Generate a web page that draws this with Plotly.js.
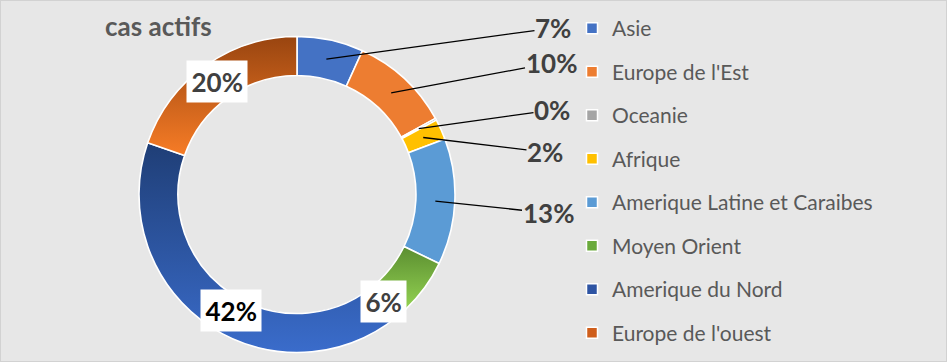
<!DOCTYPE html>
<html>
<head>
<meta charset="utf-8">
<script src="https://cdn.plot.ly/plotly-3.0.1.min.js"></script>
<style>
  html, body { margin: 0; padding: 0; background: #E7E7E7; }
  #chart { width: 947px; height: 362px; }
</style>
</head>
<body>
<div id="chart"></div>
<script>
// ---- data ----
const regions = ["Asie", "Europe de l'Est", "Oceanie", "Afrique",
                 "Amerique Latine et Caraibes", "Moyen Orient",
                 "Amerique du Nord", "Europe de l'ouest"];
const shares = [6.8, 10.2, 0.2, 2.1, 12.9, 5.7, 42.4, 19.7];
const chartTitle = "cas actifs";

// ---- styles ----
const sliceColors = ["#4472C4", "#ED7D31", "#A5A5A5", "#FFC000",
                     "#5B9BD5", "#70AD47", "#2E58AE", "#D2601A"];
const legendColors = ["#4472C4", "#ED7D31", "#A5A5A5", "#FFC000",
                      "#5B9BD5", "#6AAA3C", "#2E54A3", "#CF5E1B"];
const gradients = { 5: ["#5B8E30", "#93D252"], 6: ["#1F3E76", "#3A6CCB"], 7: ["#994510", "#F77C26"] };
const labelMode = ["out", "out", "out", "out", "out", "in", "in", "in"];
const labelColor = ["#404040", "#404040", "#404040", "#404040", "#404040", "#404040", "#000000", "#404040"];
// pixel nudges for inside labels (layout tweak)
const labelNudge = { 5: [-25, 25], 6: [9, 0], 7: [0, 0] };
// label anchor (pixels) for outside labels
const outsideLabelPos = { 0: [553, 28], 1: [551, 63], 2: [552, 110], 3: [545, 152], 4: [548, 213] };

const W = 947, H = 362;
const cx = 297, cy = 194.5, R = 158, holeFrac = 0.753;
const rMid = R * (1 + holeFrac) / 2;

const pie = {
  type: "pie",
  labels: regions,
  values: shares,
  sort: false,
  direction: "clockwise",
  rotation: 0,
  hole: holeFrac,
  textinfo: "none",
  hoverinfo: "skip",
  showlegend: false,
  marker: { colors: sliceColors, line: { color: "#FFFFFF", width: 1.6 } },
  domain: { x: [(cx - R) / W, (cx + R) / W], y: [1 - (cy + R) / H, 1 - (cy - R) / H] }
};

const legendTraces = regions.map((name, i) => ({
  type: "scatter", mode: "markers", x: [null], y: [null], name: name,
  legendgroup: "g" + i, hoverinfo: "skip",
  marker: { symbol: "square", size: 11, color: legendColors[i], line: { color: "#FFFFFF", width: 1.5 } }
}));

// annotations computed from the data
const total = shares.reduce((a, b) => a + b, 0);
let cum = 0;
const annotations = [];
const labelFont = { family: "Lato, 'Open Sans', sans-serif", size: 26, weight: 700 };
shares.forEach((v, i) => {
  const mid = (cum + v / 2) / total;
  cum += v;
  const th = 2 * Math.PI * mid;
  const px = cx + rMid * Math.sin(th);
  const py = cy - rMid * Math.cos(th);
  const txt = Math.round(v / total * 100) + "%";
  const f = Object.assign({}, labelFont, { color: labelColor[i] });
  if (labelMode[i] === "in") {
    const n = labelNudge[i] || [0, 0];
    annotations.push({
      xref: "paper", yref: "paper", x: (px + n[0]) / W, y: 1 - (py + n[1]) / H,
      text: "<b>" + txt + "</b>", showarrow: false, font: f,
      bgcolor: "#FFFFFF", borderpad: 4.5, xanchor: "center", yanchor: "middle"
    });
  } else {
    const lp = outsideLabelPos[i];
    annotations.push({
      xref: "paper", yref: "paper", x: px / W, y: 1 - py / H,
      ax: lp[0] - px, ay: lp[1] - py, axref: "pixel", ayref: "pixel",
      text: "<b>" + txt + "</b>", showarrow: true, arrowhead: 0, arrowwidth: 1.3,
      arrowcolor: "#000000", standoff: 0, startstandoff: 0, font: f, borderpad: 0
    });
  }
});

const layout = {
  width: W, height: H,
  margin: { l: 0, r: 0, t: 0, b: 0 },
  paper_bgcolor: "#E7E7E7", plot_bgcolor: "#E7E7E7",
  title: {
    text: "<b>" + chartTitle + "</b>",
    x: 105 / W, xanchor: "left", xref: "paper",
    y: 1 - 27 / H, yanchor: "middle", yref: "container",
    font: { family: "Lato, 'Open Sans', sans-serif", size: 26, color: "#595959" }
  },
  xaxis: { visible: false }, yaxis: { visible: false },
  showlegend: true,
  legend: {
    x: 572 / W, xanchor: "left", y: 1 - 8 / H, yanchor: "top",
    bgcolor: "rgba(0,0,0,0)", tracegroupgap: 13.2,
    font: { family: "Lato, 'Open Sans', sans-serif", size: 21, color: "#595959" },
    itemclick: false, itemdoubleclick: false
  },
  annotations: annotations,
  shapes: [{ type: "rect", xref: "paper", yref: "paper", x0: 0, x1: 1, y0: 0, y1: 1,
             line: { color: "#D2D2D2", width: 2 } }]
};

Plotly.newPlot("chart", [pie].concat(legendTraces), layout, { displayModeBar: false, staticPlot: true })
.then(gd => {
  try {
    const svg = gd.querySelector(".main-svg");
    const defs = svg.querySelector("defs");
    const NS = "http://www.w3.org/2000/svg";
    const paths = gd.querySelectorAll(".pielayer .slice path.surface");
    Object.keys(gradients).forEach(k => {
      const id = "sliceGrad" + k;
      const g = document.createElementNS(NS, "linearGradient");
      g.setAttribute("id", id);
      g.setAttribute("x1", "0"); g.setAttribute("y1", "0");
      g.setAttribute("x2", "0"); g.setAttribute("y2", "1");
      gradients[k].forEach((c, j) => {
        const s = document.createElementNS(NS, "stop");
        s.setAttribute("offset", j === 0 ? "0" : "1");
        s.setAttribute("stop-color", c);
        g.appendChild(s);
      });
      defs.appendChild(g);
      const p = paths[+k];
      if (p) p.style.fill = "url(#" + id + ")";
    });
  } catch (e) { console.log(e); }
});
</script>
</body>
</html>
